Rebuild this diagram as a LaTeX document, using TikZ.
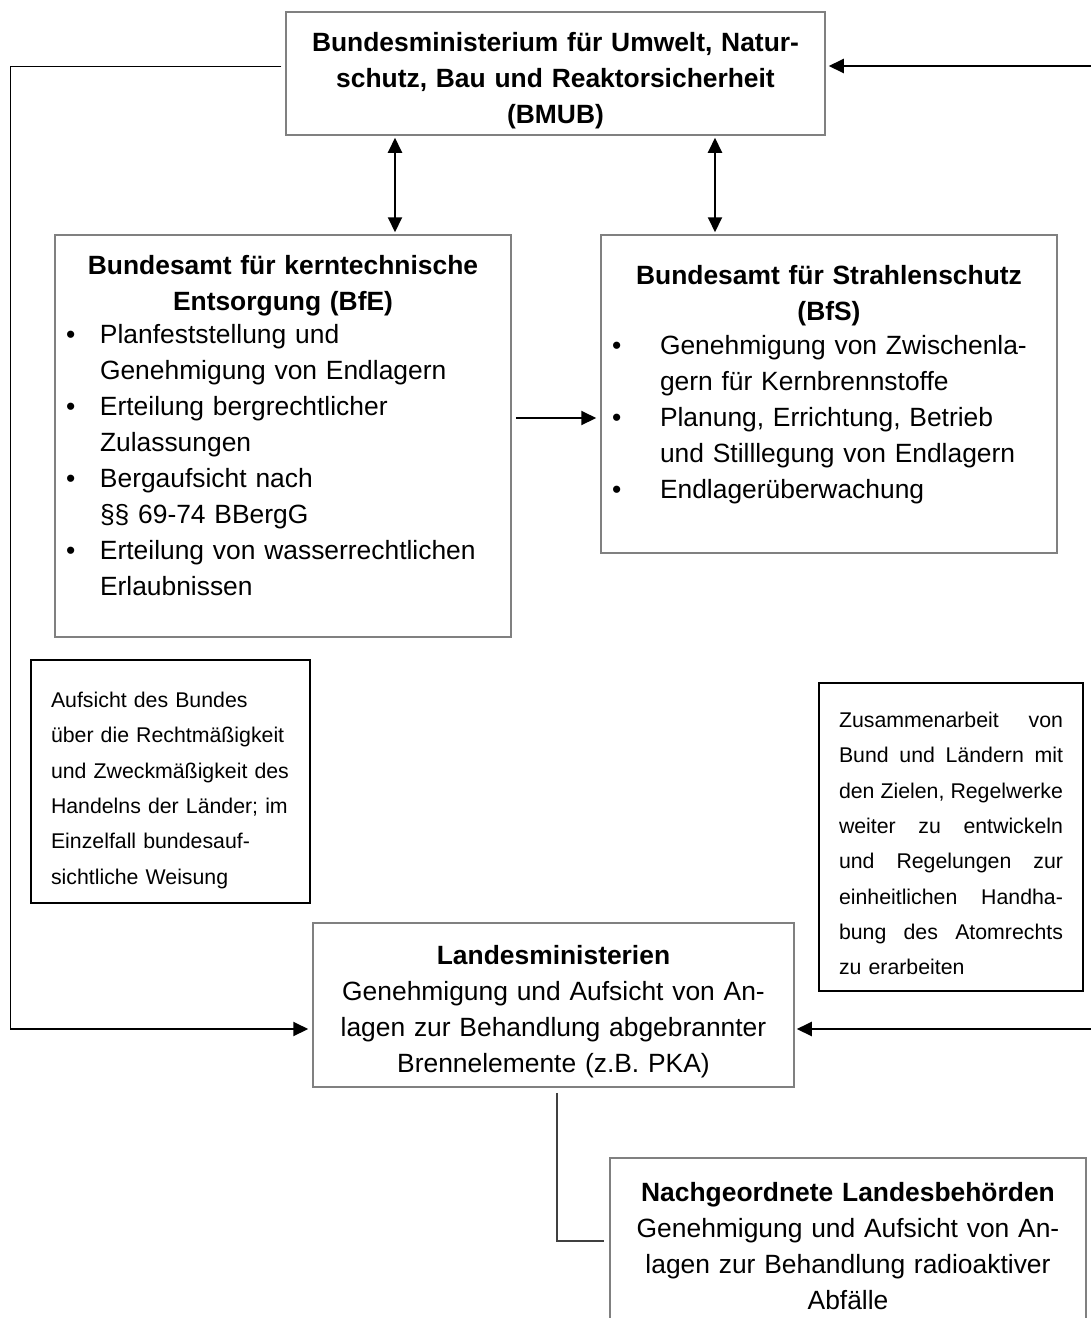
\documentclass[tikz,border=0pt]{standalone}
\usepackage{fontspec}
\setmainfont{Liberation Sans}
\usetikzlibrary{arrows.meta}

\newcommand{\bul}[1]{\makebox[#1][l]{\textbullet}}
\newcommand{\jline}[1]{\makebox[224pt][s]{\spaceskip=0.278em plus 10em\relax #1}}

\begin{document}
\begin{tikzpicture}[x=1pt, y=-1pt,
    office/.style = {rectangle, draw=black!50, line width=1.5pt, inner sep=0pt, align=center},
    remark/.style = {rectangle, draw=black, line width=1.2pt, inner xsep=20pt, inner ysep=0pt, align=left,
                     font=\fontsize{21.3pt}{35.3pt}\selectfont},
    >={Triangle[length=15pt, width=14pt]},
    font=\fontsize{26.4pt}{36pt}\selectfont]
  \useasboundingbox (0, 0) rectangle (1091, 1318);

  % Federal authorities.
  \node at (555.5, 73.5) [office, text width=539pt, text height=39.3pt, text depth=83.7pt, name=BMUB]
    {\bfseries Bundesministerium für Umwelt, Natur-\\schutz, Bau und Reaktorsicherheit\\(BMUB)};
  \node at (283, 436) [office, text width=456pt, text height=39.3pt, text depth=362.7pt, name=BfE]
    {\textbf{Bundesamt für kerntechnische}\\
     \textbf{Entsorgung (BfE)}\\[-3pt]
     \makebox[456pt][l]{\hspace{11pt}\begin{tabular}[t]{@{}l@{}l@{}}
       \bul{34pt} & Planfeststellung und \\
                  & Genehmigung von Endlagern \\
       \bul{34pt} & Erteilung bergrechtlicher \\
                  & Zulassungen \\
       \bul{34pt} & Bergaufsicht nach \\
                  & §§ 69-74 BBergG \\
       \bul{34pt} & Erteilung von wasserrechtlichen \\
                  & Erlaubnissen
     \end{tabular}}};
  \node at (829, 394) [office, text width=456pt, text height=49.3pt, text depth=268.7pt, name=BfS]
    {\textbf{Bundesamt für Strahlenschutz}\\
     \textbf{(BfS)}\\[-2pt]
     \makebox[456pt][l]{\hspace{11pt}\begin{tabular}[t]{@{}l@{}l@{}}
       \bul{48pt} & Genehmigung von Zwischenla- \\
                  & gern für Kernbrennstoffe \\
       \bul{48pt} & Planung, Errichtung, Betrieb \\
                  & und Stilllegung von Endlagern \\
       \bul{48pt} & Endlagerüberwachung
     \end{tabular}}};

  % Remarks.
  \node at (170.5, 781.5) [remark, text width=239pt, text height=47.5pt, text depth=195.5pt, name=Aufsicht]
    {Aufsicht des Bundes\\über die Rechtmäßigkeit\\und Zweckmäßigkeit des\\Handelns der Länder; im\\Einzelfall bundesauf-\\sichtliche Weisung};
  \node at (951, 837) [remark, text width=224pt, text height=44.5pt, text depth=263.5pt, name=Zusammenarbeit]
    {\jline{Zusammenarbeit von}\\
     \jline{Bund und Ländern mit}\\
     \jline{den Zielen, Regelwerke}\\
     \jline{weiter zu entwickeln}\\
     \jline{und Regelungen zur}\\
     \jline{einheitlichen Handha-}\\
     \jline{bung des Atomrechts}\\
     zu erarbeiten};

  % State authorities.
  \node at (553.5, 1005) [office, text width=481pt, text height=41.3pt, text depth=122.7pt, name=Landes]
    {\textbf{Landesministerien}\\Genehmigung und Aufsicht von An-\\lagen zur Behandlung abgebrannter\\Brennelemente (z.B. PKA)};
  \node at (848, 1249) [office, text width=476pt, text height=43.3pt, text depth=138.7pt, name=Nachgeordnete]
    {\textbf{Nachgeordnete Landesbehörden}\\Genehmigung und Aufsicht von An-\\lagen zur Behandlung radioaktiver\\Abfälle};

  % Corners and branch points.
  \coordinate (westTop) at (10, 66);
  \coordinate (westBottom) at (10, 1029);
  \coordinate (eastTop) at (1091, 66);
  \coordinate (eastBottom) at (1091, 1029);
  \coordinate (linkBfE) at (395, 185);
  \coordinate (linkBfS) at (715, 185);
  \coordinate (transfer) at (556, 418);
  \coordinate (turn) at (557, 1241);

  % Connections.
  \draw [line width=1pt, shorten <=4pt] (westTop -| BMUB.west)
             -- (westTop)
             -- (westBottom);
  \draw [->, line width=2pt, shorten >=4pt] (westBottom)
             -- (westBottom -| Landes.west);
  \draw [->, line width=2pt, shorten >=3pt] (eastTop)
             -- (eastTop -| BMUB.east);
  \draw [->, line width=2pt, shorten >=2pt] (eastBottom)
             -- (eastBottom -| Landes.east);
  \draw [<->, line width=2pt, shorten <=2pt, shorten >=2pt] (linkBfE |- BMUB.south)
             -- (linkBfE |- BfE.north);
  \draw [<->, line width=2pt, shorten <=2pt, shorten >=2pt] (linkBfS |- BMUB.south)
             -- (linkBfS |- BfS.north);
  \draw [->, line width=2pt, shorten <=4pt, shorten >=4pt] (transfer -| BfE.east)
             -- (transfer -| BfS.west);
  \draw [line width=1.3pt, draw=black!75, shorten <=5pt, shorten >=5pt] (Landes.south -| turn)
             -- (turn)
             -- (turn -| Nachgeordnete.west);
\end{tikzpicture}
\end{document}
